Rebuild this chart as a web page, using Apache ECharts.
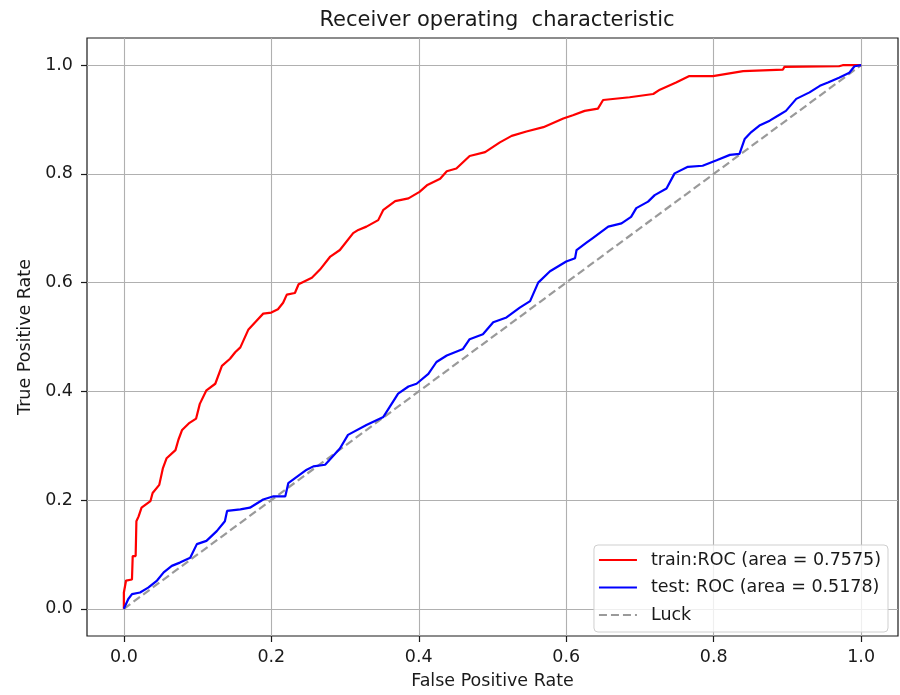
<!DOCTYPE html>
<html>
<head>
<meta charset="utf-8">
<script src="https://cdn.jsdelivr.net/npm/echarts@6/dist/echarts.min.js"></script>
<style>
  html, body { margin: 0; padding: 0; background: #fff; }
  #chart { width: 900px; height: 695px; }
</style>
</head>
<body>
<div id="chart"></div>
<script>
// ROC curve points (false positive rate / true positive rate)
const trainFpr = [0, 0, 0.003, 0.011, 0.012, 0.016, 0.017, 0.020, 0.024, 0.036,
  0.039, 0.048, 0.053, 0.058, 0.070, 0.074, 0.079, 0.088, 0.098, 0.103,
  0.112, 0.124, 0.133, 0.144, 0.151, 0.158, 0.169, 0.180, 0.189, 0.200,
  0.209, 0.216, 0.221, 0.232, 0.237, 0.255, 0.266, 0.280, 0.293, 0.311,
  0.318, 0.329, 0.345, 0.352, 0.368, 0.386, 0.401, 0.411, 0.429, 0.438,
  0.451, 0.469, 0.490, 0.510, 0.526, 0.546, 0.569, 0.596, 0.609, 0.625,
  0.643, 0.650, 0.686, 0.718, 0.727, 0.749, 0.767, 0.799, 0.840, 0.894,
  0.896, 0.970, 0.975, 1.0];
const trainTpr = [0, 0.03, 0.052, 0.054, 0.097, 0.097, 0.161, 0.170, 0.186, 0.198,
  0.213, 0.228, 0.259, 0.277, 0.292, 0.311, 0.329, 0.341, 0.350, 0.377,
  0.402, 0.414, 0.447, 0.460, 0.472, 0.481, 0.514, 0.530, 0.543, 0.545,
  0.551, 0.563, 0.578, 0.581, 0.597, 0.609, 0.624, 0.648, 0.660, 0.691,
  0.697, 0.703, 0.715, 0.734, 0.750, 0.755, 0.767, 0.779, 0.791, 0.805,
  0.810, 0.833, 0.840, 0.858, 0.870, 0.878, 0.886, 0.902, 0.908, 0.916,
  0.920, 0.936, 0.941, 0.947, 0.955, 0.968, 0.980, 0.980, 0.989, 0.992,
  0.997, 0.998, 1.0, 1.0];

const testFpr = [0, 0.006, 0.011, 0.022, 0.033, 0.045, 0.054, 0.065, 0.076, 0.090,
  0.099, 0.112, 0.126, 0.137, 0.140, 0.158, 0.171, 0.189, 0.203, 0.219,
  0.223, 0.248, 0.257, 0.273, 0.293, 0.304, 0.329, 0.352, 0.372, 0.386,
  0.397, 0.413, 0.424, 0.438, 0.460, 0.469, 0.487, 0.501, 0.519, 0.537,
  0.551, 0.562, 0.578, 0.600, 0.612, 0.614, 0.627, 0.636, 0.657, 0.675,
  0.688, 0.695, 0.711, 0.720, 0.736, 0.747, 0.765, 0.785, 0.804, 0.822,
  0.835, 0.842, 0.851, 0.862, 0.876, 0.887, 0.898, 0.912, 0.930, 0.944,
  0.955, 0.970, 0.984, 0.991, 1.0];
const testTpr = [0, 0.018, 0.027, 0.030, 0.039, 0.052, 0.067, 0.079, 0.085, 0.094,
  0.119, 0.125, 0.143, 0.161, 0.180, 0.183, 0.186, 0.201, 0.207, 0.207,
  0.231, 0.256, 0.262, 0.265, 0.295, 0.320, 0.338, 0.353, 0.396, 0.409,
  0.414, 0.432, 0.454, 0.466, 0.478, 0.496, 0.505, 0.527, 0.536, 0.554,
  0.566, 0.600, 0.621, 0.639, 0.645, 0.660, 0.673, 0.682, 0.703, 0.709,
  0.721, 0.737, 0.749, 0.761, 0.773, 0.801, 0.813, 0.815, 0.825, 0.835,
  0.837, 0.864, 0.877, 0.889, 0.898, 0.907, 0.916, 0.938, 0.950, 0.962,
  0.968, 0.977, 0.986, 0.998, 1.0];

// chance diagonal
const luckFpr = [0, 1];
const luckTpr = [0, 1];

const xTicks = [0, 0.2, 0.4, 0.6, 0.8, 1.0];
const yTicks = [0, 0.2, 0.4, 0.6, 0.8, 1.0];

const seriesNames = ['train:ROC (area = 0.7575)', 'test: ROC (area = 0.5178)', 'Luck'];

const zip = (xs, ys) => xs.map((x, i) => [x, ys[i]]);

const FONT = 'DejaVu Sans';
const INK = '#1a1a1a';

const chart = echarts.init(document.getElementById('chart'), null, { renderer: 'canvas' });

const axisCommon = {
  type: 'value',
  min: -0.05,
  max: 1.05,
  minInterval: 0.2,
  maxInterval: 0.2,
  nameLocation: 'middle',
  nameTextStyle: { fontFamily: FONT, fontSize: 17.5, color: INK },
  axisLine: { show: false, onZero: false },
  axisTick: { show: true, length: 6, lineStyle: { color: INK, width: 1.2 } },
  axisLabel: {
    fontFamily: FONT, fontSize: 17.5, color: INK,
    formatter: v => v.toFixed(1)
  },
  splitLine: { show: true, lineStyle: { color: '#b0b0b0', width: 1.1 } }
};

chart.setOption({
  animation: false,
  backgroundColor: '#fff',
  title: {
    text: 'Receiver operating  characteristic',
    left: 492,
    top: 5,
    textAlign: 'center',
    textStyle: { fontFamily: FONT, fontSize: 21, fontWeight: 'normal', color: INK }
  },
  grid: {
    left: 87, right: 2, top: 38, bottom: 55,
    show: true, borderColor: INK, borderWidth: 1.2, backgroundColor: 'transparent'
  },
  xAxis: Object.assign({}, axisCommon, {
    name: 'False Positive Rate',
    nameGap: 36,
    axisTick: Object.assign({}, axisCommon.axisTick, { customValues: xTicks }),
    axisLabel: Object.assign({}, axisCommon.axisLabel, { customValues: xTicks, margin: 12 })
  }),
  yAxis: Object.assign({}, axisCommon, {
    name: 'True Positive Rate',
    nameGap: 52,
    axisTick: Object.assign({}, axisCommon.axisTick, { customValues: yTicks }),
    axisLabel: Object.assign({}, axisCommon.axisLabel, { customValues: yTicks, margin: 14 })
  }),
  legend: {
    orient: 'vertical',
    right: 12,
    top: 545,
    padding: [5, 7, 7, 4],
    itemWidth: 38,
    itemHeight: 14,
    itemGap: 7.5,
    backgroundColor: 'rgba(255,255,255,0.8)',
    borderColor: '#cfcfcf',
    borderWidth: 1,
    borderRadius: 4,
    itemStyle: { opacity: 0, borderWidth: 0 },
    textStyle: { fontFamily: FONT, fontSize: 17.5, color: INK, lineHeight: 20, padding: [0, 0, 0, 9] },
    data: seriesNames
  },
  series: [
    {
      name: seriesNames[0],
      type: 'line',
      data: zip(trainFpr, trainTpr),
      symbol: 'none',
      z: 4,
      lineStyle: { color: '#ff0000', width: 2.2 },
      itemStyle: { color: '#ff0000' }
    },
    {
      name: seriesNames[1],
      type: 'line',
      data: zip(testFpr, testTpr),
      symbol: 'none',
      z: 4,
      lineStyle: { color: '#0000ff', width: 2.2 },
      itemStyle: { color: '#0000ff' }
    },
    {
      name: seriesNames[2],
      type: 'line',
      data: zip(luckFpr, luckTpr),
      symbol: 'none',
      z: 3,
      lineStyle: { color: '#9a9a9a', width: 2.2, type: [8, 4] },
      itemStyle: { color: '#9a9a9a' }
    }
  ]
});
</script>
</body>
</html>
